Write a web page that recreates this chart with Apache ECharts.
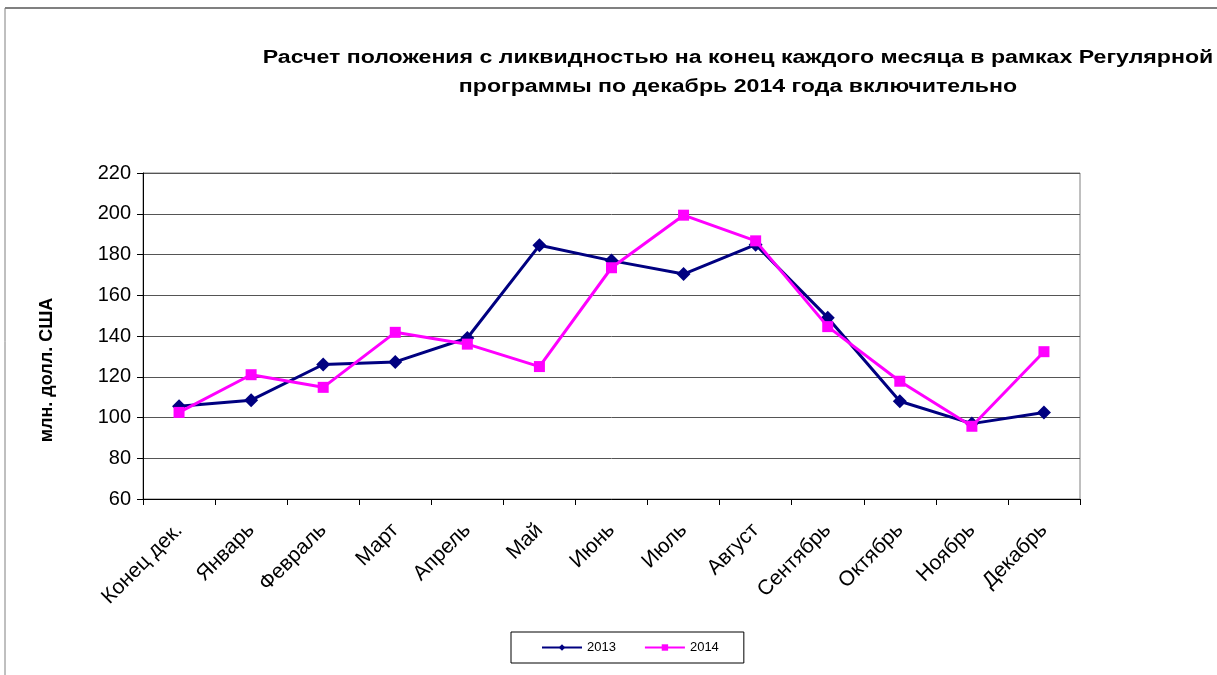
<!DOCTYPE html>
<html><head><meta charset="utf-8">
<script src="https://cdn.jsdelivr.net/npm/echarts@6/dist/echarts.min.js"></script>
<style>html,body{margin:0;padding:0;background:#fff}#c{width:1217px;height:675px}</style>
</head><body><div id="c"></div>
<script>
const categories = ['Конец дек.', 'Январь', 'Февраль', 'Март', 'Апрель', 'Май', 'Июнь', 'Июль', 'Август', 'Сентябрь', 'Октябрь', 'Ноябрь', 'Декабрь'];
const values2013 = [105.5, 108.5, 126, 127.3, 139, 184.5, 177, 170.4, 184.8, 149, 108, 97, 102.5];
const values2014 = [102.5, 121, 114.8, 141.8, 136, 125, 173.5, 199.3, 186.7, 144.6, 117.8, 95.7, 132.3];
const seriesNames = ['2013', '2014'];
const titleLines = ['Расчет положения с ликвидностью на конец каждого месяца в рамках Регулярной', 'программы по декабрь 2014 года включительно'];
const yAxisName = 'млн. долл. США';

const chart = echarts.init(document.getElementById('c'), null, {renderer: 'canvas'});
const F = 'Liberation Sans, Arial, sans-serif';
chart.setOption({
  animation: false,
  backgroundColor: '#fff',
  graphic: [
    {type: 'line', shape: {x1: 5, y1: 8, x2: 1217, y2: 8}, style: {stroke: '#808080', lineWidth: 2}},
    {type: 'line', shape: {x1: 5, y1: 8, x2: 5, y2: 675}, style: {stroke: '#808080', lineWidth: 1}},
    {type: 'text', x: 738, y: 58, scaleX: 1.285,
     style: {text: titleLines[0], font: 'bold 18px Liberation Sans, Arial, sans-serif', fill: '#000', textAlign: 'center', textVerticalAlign: 'middle'}},
    {type: 'text', x: 738, y: 87, scaleX: 1.285,
     style: {text: titleLines[1], font: 'bold 18px Liberation Sans, Arial, sans-serif', fill: '#000', textAlign: 'center', textVerticalAlign: 'middle'}},
    {type: 'text', x: 47, y: 370, rotation: Math.PI / 2,
     style: {text: yAxisName, font: 'bold 18px Liberation Sans, Arial, sans-serif', fill: '#000', textAlign: 'center', textVerticalAlign: 'middle'}}
  ],
  legend: {
    data: seriesNames,
    left: 511, top: 632,
    padding: [9, 25, 9, 30],
    borderColor: '#000', borderWidth: 1,
    itemWidth: 40, itemHeight: 8, itemGap: 28,
    textStyle: {fontFamily: F, fontSize: 13, color: '#000'}
  },
  grid: {left: 143, right: 137, top: 173, bottom: 176, show: true, borderColor: '#808080', borderWidth: 1},
  xAxis: {
    type: 'category', data: categories, boundaryGap: true,
    axisLine: {lineStyle: {color: '#000', width: 1}},
    axisTick: {show: true, length: 6, lineStyle: {color: '#000'}},
    axisLabel: {rotate: 45, fontFamily: F, fontSize: 21, color: '#000', margin: 28, interval: 0}
  },
  yAxis: {
    type: 'value', min: 60, max: 220, interval: 20,
    axisLine: {show: true, lineStyle: {color: '#000', width: 1}},
    axisTick: {show: true, length: 6, lineStyle: {color: '#000'}},
    axisLabel: {fontFamily: F, fontSize: 20, color: '#000', margin: 12},
    splitLine: {lineStyle: {color: '#555', width: 1}}
  },
  series: [
    {name: seriesNames[0], type: 'line', data: values2013, symbol: 'diamond', symbolSize: 14,
     lineStyle: {color: '#000080', width: 3}, itemStyle: {color: '#000080'}, z: 2},
    {name: seriesNames[1], type: 'line', data: values2014, symbol: 'rect', symbolSize: 11,
     lineStyle: {color: '#ff00ff', width: 3}, itemStyle: {color: '#ff00ff'}, z: 3}
  ]
});
</script></body></html>
